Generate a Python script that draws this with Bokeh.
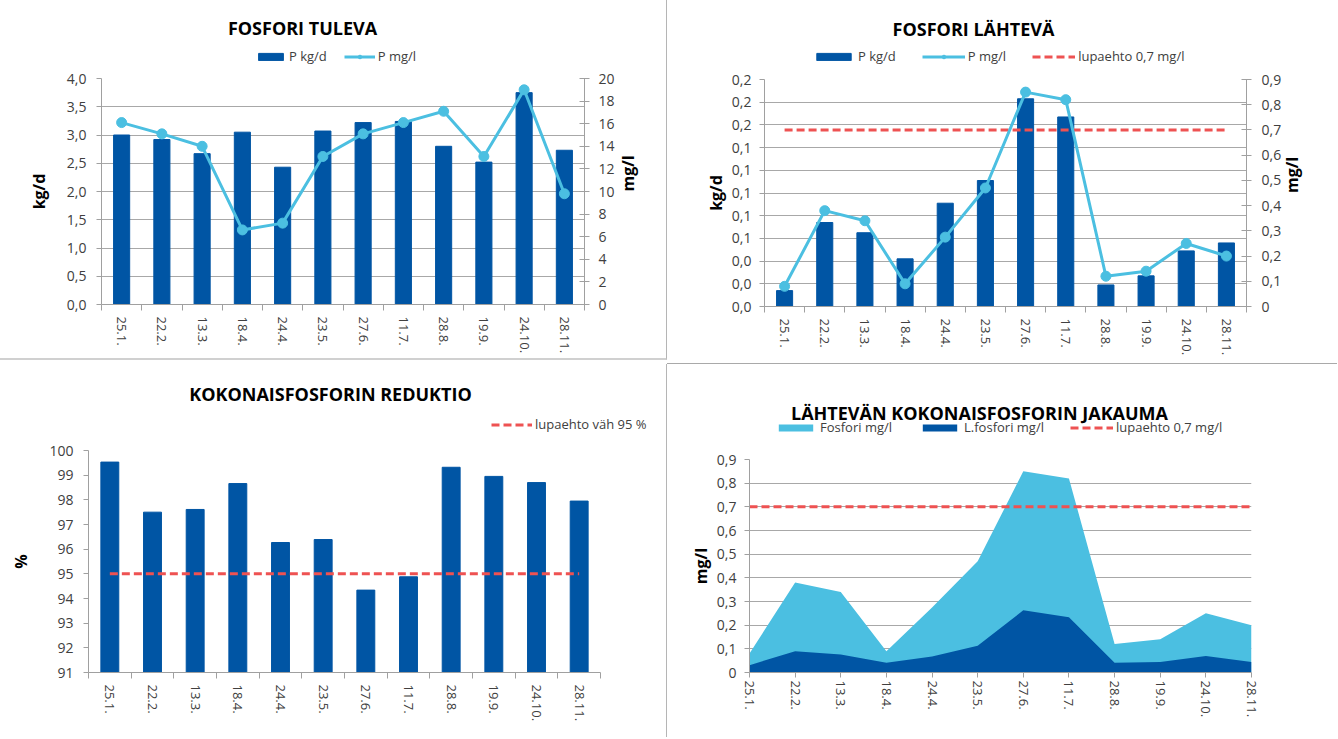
import math
from bokeh.plotting import figure
from bokeh.models import (Range1d, LinearAxis, FixedTicker, CustomJSTickFormatter,
                          Legend, LegendItem, Label)
from bokeh.layouts import column, row
from bokeh.embed import file_html
from bokeh.resources import INLINE

# ---------------- data ----------------
DATES = ["25.1.", "22.2.", "13.3.", "18.4.", "24.4.", "23.5.",
         "27.6.", "11.7.", "28.8.", "19.9.", "24.10.", "28.11."]
IN_KG = [3.00, 2.92, 2.67, 3.05, 2.43, 3.07, 3.22, 3.24, 2.80, 2.52, 3.75, 2.73]
IN_MG = [16.1, 15.1, 14.0, 6.6, 7.2, 13.1, 15.1, 16.1, 17.1, 13.1, 19.0, 9.8]
OUT_KG = [0.014, 0.074, 0.065, 0.042, 0.091, 0.111, 0.183, 0.167, 0.019, 0.027, 0.049, 0.056]
OUT_MG = [0.08, 0.38, 0.34, 0.09, 0.275, 0.47, 0.85, 0.82, 0.12, 0.14, 0.25, 0.20]
OUT_DISSOLVED = [0.031, 0.090, 0.076, 0.041, 0.068, 0.113, 0.263, 0.233, 0.041, 0.044, 0.070, 0.044]
REDUCTION = [99.53, 97.50, 97.61, 98.66, 96.27, 96.39, 94.34, 94.88, 99.32, 98.95, 98.70, 97.95]
LIMIT_MG = 0.7
LIMIT_RED = 95

P1_LEFT_TICKS = [0.0, 0.5, 1.0, 1.5, 2.0, 2.5, 3.0, 3.5, 4.0]
P1_RIGHT_TICKS = [0, 2, 4, 6, 8, 10, 12, 14, 16, 18, 20]
P2_LEFT_TICKS = [0.0, 0.02, 0.04, 0.06, 0.08, 0.10, 0.12, 0.14, 0.16, 0.18, 0.20]
P2_RIGHT_TICKS = [0.0, 0.1, 0.2, 0.3, 0.4, 0.5, 0.6, 0.7, 0.8, 0.9]
P3_TICKS = [91, 92, 93, 94, 95, 96, 97, 98, 99, 100]
P4_TICKS = [0.0, 0.1, 0.2, 0.3, 0.4, 0.5, 0.6, 0.7, 0.8, 0.9]

# ---------------- style ----------------
FONT = "Open Sans"
DARK = "#0055A4"
LIGHT = "#4BBFE1"
RED = "#EE5252"
GRID = "#A8A8A8"
AXIS = "#A0A0A0"
TXT = "#404040"

idx = list(range(len(DATES)))
n = len(DATES)

fmt_1dec = CustomJSTickFormatter(code="return tick.toFixed(1).replace('.', ',');")
fmt_int = CustomJSTickFormatter(code="return tick.toFixed(0);")
fmt_gen = CustomJSTickFormatter(
    code="return Math.abs(tick) < 1e-9 ? '0' : tick.toFixed(1).replace('.', ',');")
fmt_cat = CustomJSTickFormatter(args=dict(labels=DATES),
                                code="const i = Math.round(tick); return labels[i] || '';")


def style_axis(ax, label=None):
    ax.axis_line_color = AXIS
    ax.major_tick_line_color = AXIS
    ax.minor_tick_line_color = AXIS
    ax.major_label_text_font = FONT
    ax.major_label_text_font_size = "14px"
    ax.major_label_text_color = TXT
    ax.axis_label_text_font = FONT
    ax.axis_label_text_font_size = "16px"
    ax.axis_label_text_font_style = "bold"
    ax.axis_label_text_color = "black"
    if label is not None:
        ax.axis_label = label


def header(width, height, title, title_x, title_y):
    """Title + legend strip above a chart (its ranges lie far away from all data,
    so the legend-key renderers draw nothing visible)."""
    h = figure(width=width, height=height, x_range=Range1d(50, 51), y_range=Range1d(500, 501),
               output_backend="svg", toolbar_location=None,
               x_axis_type=None, y_axis_type=None,
               min_border_left=0, min_border_right=0, min_border_top=0, min_border_bottom=0)
    h.outline_line_color = None
    h.xgrid.visible = False
    h.ygrid.visible = False
    h.add_layout(Label(x=title_x, y=title_y, x_units="screen", y_units="screen",
                       text=title, text_align="center", text_baseline="middle",
                       text_font=FONT, text_font_size="18px", text_font_style="bold",
                       text_color="black"))
    return h


def chart(width, height, ml, mr, mt, mb, xr, yr):
    p = figure(width=width, height=height, x_range=xr, y_range=yr,
               output_backend="svg", toolbar_location=None,
               min_border_left=ml, min_border_right=mr,
               min_border_top=mt, min_border_bottom=mb)
    p.outline_line_color = None
    p.xgrid.visible = False
    p.ygrid.grid_line_color = GRID
    return p


def bar_xaxis(p):
    ax = p.xaxis[0]
    style_axis(ax)
    ax.ticker = FixedTicker(ticks=idx,
                            minor_ticks=[i - 0.5 for i in idx] + [idx[-1] + 0.5])
    ax.formatter = fmt_cat
    ax.major_tick_out = 0
    ax.major_tick_in = 0
    ax.minor_tick_out = 6
    ax.minor_tick_in = 0
    ax.major_label_orientation = "vertical"
    ax.major_label_text_font_size = "13px"
    ax.major_label_standoff = 6


def left_axis(p, ticks, fmt, label, standoff, label_standoff):
    ax = p.yaxis[0]
    style_axis(ax, label)
    ax.ticker = FixedTicker(ticks=ticks)
    ax.formatter = fmt
    ax.major_tick_out = 5
    ax.major_tick_in = 0
    ax.major_label_standoff = standoff
    ax.axis_label_standoff = label_standoff


def right_axis(p, rname, ticks, fmt, label, standoff, label_standoff):
    ax = LinearAxis(y_range_name=rname, ticker=FixedTicker(ticks=ticks), formatter=fmt)
    style_axis(ax, label)
    ax.major_tick_out = 5
    ax.major_tick_in = 5
    ax.major_label_standoff = standoff
    ax.axis_label_standoff = label_standoff
    if hasattr(ax, "axis_label_orientation"):
        ax.axis_label_orientation = math.pi / 2
    p.add_layout(ax, "right")


def add_legend(h, items, loc, glyph_w, spacing):
    lg = Legend(items=items, orientation="horizontal", location=loc,
                border_line_color=None, background_fill_alpha=0,
                padding=0, margin=0, spacing=spacing,
                glyph_width=glyph_w, glyph_height=9, label_standoff=3,
                label_height=16,
                label_text_font=FONT, label_text_font_size="13px",
                label_text_color=TXT)
    h.add_layout(lg)
    return lg


BAR_STYLE = dict(color=DARK)
LINE_STYLE = dict(color=LIGHT, line_width=3)
MARK_STYLE = dict(color=LIGHT, size=10)
LIMIT_STYLE = dict(color=RED, line_width=3, line_dash="8 4")

# ---------------- panel 1: FOSFORI TULEVA ----------------
h1 = header(667, 66, "FOSFORI TULEVA", 201, 39)
p1 = chart(667, 294, 101, 83, 12, 56, Range1d(-0.5, 11.5), Range1d(0, 4))
p1.extra_y_ranges = {"mg": Range1d(0, 20)}
p1.vbar(x=idx, top=IN_KG, width=0.4, **BAR_STYLE)
p1.line(idx, IN_MG, y_range_name="mg", **LINE_STYLE)
p1.scatter(idx, IN_MG, y_range_name="mg", **MARK_STYLE)
bar_xaxis(p1)
left_axis(p1, P1_LEFT_TICKS, fmt_1dec, "kg/d", 10, 14)
right_axis(p1, "mg", P1_RIGHT_TICKS, fmt_int, "mg/l", 9, 10)
k1b = h1.vbar(x=idx, top=IN_KG, width=0.4, **BAR_STYLE)
k1l = h1.line(idx, IN_MG, **LINE_STYLE)
k1s = h1.scatter(idx, IN_MG, **MARK_STYLE)
add_legend(h1, [LegendItem(label="P kg/d", renderers=[k1b]),
                LegendItem(label="P mg/l", renderers=[k1l, k1s])],
           (154, 1), 31, 17)

# ---------------- panel 2: FOSFORI LÄHTEVÄ ----------------
h2 = header(670, 66, "FOSFORI LÄHTEVÄ", 209, 38)
p2 = chart(670, 298, 97, 91, 13, 58, Range1d(-0.5, 11.5), Range1d(0, 0.2))
p2.extra_y_ranges = {"mg": Range1d(0, 0.9)}
p2.vbar(x=idx, top=OUT_KG, width=0.4, **BAR_STYLE)
p2.line(idx, [LIMIT_MG] * n, y_range_name="mg", **LIMIT_STYLE)
p2.line(idx, OUT_MG, y_range_name="mg", **LINE_STYLE)
p2.scatter(idx, OUT_MG, y_range_name="mg", **MARK_STYLE)
bar_xaxis(p2)
left_axis(p2, P2_LEFT_TICKS, fmt_1dec, "kg/d", 8, 2)
right_axis(p2, "mg", P2_RIGHT_TICKS, fmt_gen, "mg/l", 10, 8)
k2b = h2.vbar(x=idx, top=OUT_KG, width=0.4, **BAR_STYLE)
k2l = h2.line(idx, OUT_MG, **LINE_STYLE)
k2s = h2.scatter(idx, OUT_MG, **MARK_STYLE)
k2r = h2.line(idx, [LIMIT_MG] * n, **LIMIT_STYLE)
add_legend(h2, [LegendItem(label="P kg/d", renderers=[k2b]),
                LegendItem(label="P mg/l", renderers=[k2l, k2s]),
                LegendItem(label="lupaehto 0,7 mg/l", renderers=[k2r])],
           (48, 1), 43, 26)

# ---------------- panel 3: KOKONAISFOSFORIN REDUKTIO ----------------
h3 = header(667, 70, "KOKONAISFOSFORIN REDUKTIO", 330, 41)
p3 = chart(667, 303, 88, 67, 16, 65, Range1d(-0.5, 11.5), Range1d(91, 100))
p3.ygrid.visible = False
p3.vbar(x=idx, top=REDUCTION, bottom=P3_TICKS[0], width=0.42, **BAR_STYLE)
p3.line(idx, [LIMIT_RED] * n, **LIMIT_STYLE)
bar_xaxis(p3)
left_axis(p3, P3_TICKS, fmt_int, "%", 10, 14)
k3r = h3.line(idx, [LIMIT_RED] * n, **LIMIT_STYLE)
add_legend(h3, [LegendItem(label="lupaehto väh 95 %", renderers=[k3r])],
           (491, 1), 41, 20)

# ---------------- panel 4: LÄHTEVÄN KOKONAISFOSFORIN JAKAUMA ----------------
h4 = header(669, 80, "LÄHTEVÄN KOKONAISFOSFORIN JAKAUMA", 230, 32)
p4 = chart(669, 293, 82, 85, 15, 65, Range1d(0, 11), Range1d(0, 0.9))
p4.varea(x=idx, y1=0, y2=OUT_MG, color=LIGHT)
p4.varea(x=idx, y1=0, y2=OUT_DISSOLVED, color=DARK)
p4.line(idx, [LIMIT_MG] * n, **LIMIT_STYLE)
ax4 = p4.xaxis[0]
style_axis(ax4)
ax4.ticker = FixedTicker(ticks=idx)
ax4.formatter = fmt_cat
ax4.major_tick_out = 5
ax4.major_tick_in = 0
ax4.major_label_orientation = "vertical"
ax4.major_label_text_font_size = "13px"
ax4.major_label_standoff = 3
left_axis(p4, P4_TICKS, fmt_gen, "mg/l", 8, 2)
k4a = h4.varea(x=idx, y1=0, y2=OUT_MG, color=LIGHT)
k4b = h4.varea(x=idx, y1=0, y2=OUT_DISSOLVED, color=DARK)
k4r = h4.line(idx, [LIMIT_MG] * n, **LIMIT_STYLE)
add_legend(h4, [LegendItem(label="Fosfori mg/l", renderers=[k4a]),
                LegendItem(label="L.fosfori mg/l", renderers=[k4b]),
                LegendItem(label="lupaehto 0,7 mg/l", renderers=[k4r])],
           (25, 8), 43, 26)

VLINE = "1px solid #b5b5b5"
h1.styles = {"border-right": VLINE}
p1.styles = {"border-right": VLINE, "border-bottom": "2px solid #d0d0d0"}
p2.styles = {"border-bottom": "1px solid #a9a9a9"}
h3.styles = {"border-right": VLINE}
p3.styles = {"border-right": VLINE}

layout = column(row(column(h1, p1), column(h2, p2)),
                row(column(row(h3), p3), column(h4, p4)))
open("out.html", "w").write(file_html(layout, INLINE))
